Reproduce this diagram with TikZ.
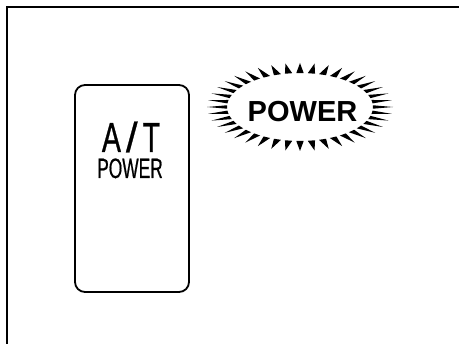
\documentclass[tikz,border=0pt]{standalone}
\usepackage{fontspec}
\setmainfont{Liberation Sans}
\newfontfamily\condA[FakeStretch=0.68,FakeBold=0.6]{Liberation Sans}
\newfontfamily\slashfont[FakeBold=0.6]{Liberation Sans}
\newfontfamily\condB[FakeStretch=0.62,FakeBold=0.6]{Liberation Sans}
\begin{document}
\begin{tikzpicture}[x=1pt,y=-1pt,
  frameline/.style={line width=2pt,black},
  panel/.style={draw,line width=1.8pt,rounded corners=10pt},
  spike/.style={fill=black},
  bigtxt/.style={inner sep=0pt,anchor=base}]
\useasboundingbox (0,0) rectangle (459,344);
% frame (left and top edges only)
\draw[frameline] (7,344) -- (7,7) -- (459,7);
% A/T POWER panel
\draw[panel] (75,85) rectangle (189,292);
\node[bigtxt,font=\fontsize{42}{42}\selectfont] (at) at (131,152)
  {{\condA A}\kern5pt\smash{\slashfont /}\kern5pt{\condA T}};
\node[bigtxt,font=\fontsize{28}{28}\selectfont\condB] (atpower) at (130,178) {POWER};
% burst
\foreach \i in {0,...,39} {
  \pgfmathsetmacro\t{\i*9}
  \fill[spike] ({300+93*cos(\t)},{107-44*sin(\t)})
    -- ({300+73*cos(\t-2.9)},{107-34*sin(\t-2.9)})
    -- ({300+73*cos(\t+2.9)},{107-34*sin(\t+2.9)}) -- cycle;
}
\node[bigtxt,font=\fontsize{29}{29}\selectfont\bfseries] (power) at (302.5,122) {POWER};
\end{tikzpicture}
\end{document}
